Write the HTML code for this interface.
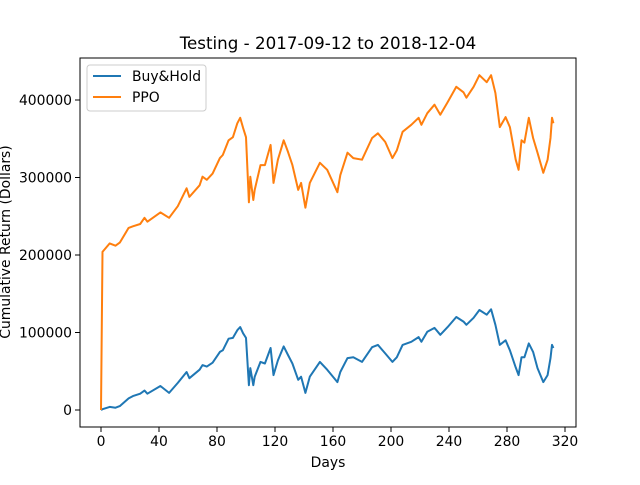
<!DOCTYPE html>
<html><head><meta charset="utf-8"><style>
body{margin:0;background:#fff}
svg text{font-family:"DejaVu Sans","Liberation Sans",sans-serif;fill:#000}
</style></head><body>
<svg id="chart" width="640" height="480" xmlns="http://www.w3.org/2000/svg">
<rect width="640" height="480" fill="#fff"/>
<text x="328" y="49" font-size="16.7" text-anchor="middle">Testing - 2017-09-12 to 2018-12-04</text>
<g id="plot"></g>
<rect x="80" y="58" width="496" height="369" fill="none" stroke="#000" stroke-width="1"/>
<g id="ticks"></g>
<text x="328" y="467" font-size="13.9" text-anchor="middle">Days</text>
<text transform="translate(10,242) rotate(-90)" font-size="13.9" text-anchor="middle">Cumulative Return (Dollars)</text>
<g>
<rect x="87" y="65" width="119" height="46" rx="3" fill="#fff" fill-opacity="0.8" stroke="#ccc"/>
<line x1="93" y1="76" x2="121" y2="76" stroke="#1f77b4" stroke-width="2"/>
<text x="132" y="81" font-size="13.9">Buy&amp;Hold</text>
<line x1="93" y1="97" x2="121" y2="97" stroke="#ff7f0e" stroke-width="2"/>
<text x="132" y="102" font-size="13.9">PPO</text>
</g>
</svg>
<script>
const days=[0,1,6,10,13,19,22,27,30,32,41,47,53,59,61,68,70,73,77,82,84,88,91,94,96,98,100,102,103,105,106,110,113,117,119,122,126,129,132,136,138,141,144,151,156,163,165,170,174,180,187,191,196,201,204,208,214,219,221,225,230,234,239,245,250,252,257,261,266,269,272,275,279,282,286,288,290,292,295,298,301,305,308,310,311,312];
const buyHold=[0,1000,4000,3000,5000,15000,18000,21000,25000,21000,31000,22000,35000,49000,41000,52000,58000,56000,61000,75000,77000,92000,93000,103000,107000,99000,93000,32000,54000,32000,43000,62000,60000,80000,45000,64000,82000,71000,60000,39000,43000,22000,43000,62000,52000,36000,49000,67000,68000,62000,81000,84000,73000,62000,68000,84000,88000,94000,88000,101000,106000,97000,107000,120000,114000,110000,119000,129000,123000,130000,110000,84000,90000,77000,55000,45000,68000,68000,86000,75000,54000,36000,45000,67000,84000,80000];
const ppo=[0,204000,215000,212000,216000,235000,237000,240000,248000,243000,255000,248000,263000,286000,275000,290000,301000,297000,305000,325000,329000,348000,352000,370000,377000,364000,352000,268000,301000,271000,284000,316000,316000,342000,293000,323000,348000,333000,316000,284000,293000,261000,293000,319000,310000,281000,303000,332000,325000,323000,351000,357000,346000,325000,335000,359000,368000,377000,368000,383000,394000,381000,397000,417000,410000,403000,417000,432000,423000,432000,409000,365000,378000,365000,323000,310000,348000,345000,377000,351000,332000,306000,323000,351000,377000,370000];
const xTicks=[0,40,80,120,160,200,240,280,320];
const yTicks=[0,100000,200000,300000,400000];
const NS="http://www.w3.org/2000/svg";
function X(d){return 101+d*1.45;}
function Y(v){return 410-v*0.000775;}
const plot=document.getElementById('plot');
function drawLine(vals,color,name){
  const p=document.createElementNS(NS,'polyline');
  p.setAttribute('points',vals.map((v,i)=>X(days[i]).toFixed(1)+','+Y(v).toFixed(1)).join(' '));
  p.setAttribute('fill','none');p.setAttribute('stroke',color);p.setAttribute('stroke-width','2');
  p.setAttribute('stroke-linejoin','round');
  
  
  plot.appendChild(p);
}
drawLine(buyHold,'#1f77b4','buyhold-line');
drawLine(ppo,'#ff7f0e','ppo-line');
const tg=document.getElementById('ticks');
xTicks.forEach(t=>{
  const l=document.createElementNS(NS,'line');
  l.setAttribute('x1',X(t));l.setAttribute('x2',X(t));l.setAttribute('y1',427);l.setAttribute('y2',432);l.setAttribute('stroke','#000');
  
  
  tg.appendChild(l);
  const tx=document.createElementNS(NS,'text');
  tx.setAttribute('x',X(t));tx.setAttribute('y',446);tx.setAttribute('font-size','13.9');tx.setAttribute('text-anchor','middle');
  tx.textContent=t;
  
  
  tg.appendChild(tx);
});
yTicks.forEach(t=>{
  const l=document.createElementNS(NS,'line');
  l.setAttribute('x1',75);l.setAttribute('x2',80);l.setAttribute('y1',Y(t));l.setAttribute('y2',Y(t));l.setAttribute('stroke','#000');
  
  
  tg.appendChild(l);
  const tx=document.createElementNS(NS,'text');
  tx.setAttribute('x',72);tx.setAttribute('y',Y(t)+5);tx.setAttribute('font-size','13.9');tx.setAttribute('text-anchor','end');
  tx.textContent=t;
  
  
  tg.appendChild(tx);
});
</script>
</body></html>
